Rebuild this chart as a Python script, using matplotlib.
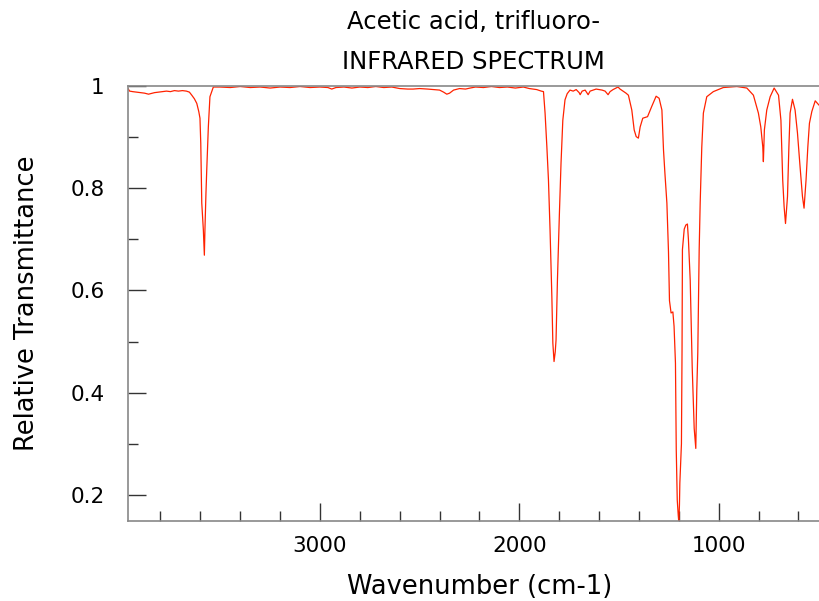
import matplotlib
matplotlib.use("Agg")
import matplotlib.pyplot as plt
from matplotlib.ticker import MultipleLocator, FixedLocator

title_line1 = "Acetic acid, trifluoro-"
title_line2 = "INFRARED SPECTRUM"
x_label = "Wavenumber (cm-1)"
y_label = "Relative Transmittance"

wavenumber = [
    3963, 3955, 3940, 3920, 3900, 3880, 3860, 3850, 3830, 3810, 3790, 3770, 3750, 3730,
    3710, 3690, 3670, 3655, 3643, 3630, 3618, 3608, 3602, 3598, 3593, 3585, 3580, 3577,
    3572, 3568, 3560, 3552, 3535, 3500, 3450, 3400, 3350, 3300, 3250, 3200, 3150, 3100,
    3050, 3000, 2960, 2941, 2920, 2880, 2840, 2800, 2760, 2720, 2680, 2640, 2600, 2560,
    2533, 2500, 2460, 2430, 2400, 2380, 2364, 2350, 2330, 2300, 2270, 2247, 2220, 2180,
    2140, 2100, 2060, 2020, 1980, 1950, 1913, 1890, 1879, 1871, 1862, 1854, 1846, 1837,
    1832, 1826, 1820, 1816, 1809, 1799, 1791, 1782, 1771, 1760, 1746, 1730, 1715, 1700,
    1695, 1685, 1670, 1655, 1645, 1630, 1615, 1600, 1585, 1570, 1555, 1545, 1530, 1515,
    1505, 1495, 1480, 1465, 1453, 1436, 1424, 1414, 1403, 1394, 1381, 1357, 1336, 1314,
    1299, 1285, 1277, 1270, 1260, 1252, 1247, 1239, 1230, 1224, 1217, 1213, 1208, 1203,
    1200, 1197, 1195, 1187, 1184, 1182, 1173, 1165, 1157, 1152, 1143, 1133, 1123, 1115,
    1110, 1105, 1098, 1093, 1085, 1077, 1060, 1027, 977, 909, 859, 826, 801, 789, 779,
    776, 771, 759, 742, 722, 700, 688, 679, 672, 665, 655, 648, 642, 630, 617, 605, 592,
    580, 572, 562, 553, 545, 533, 516, 498,
]

transmittance = [
    0.995, 0.990, 0.989, 0.988, 0.987, 0.986, 0.984, 0.985, 0.987, 0.988, 0.989, 0.990,
    0.989, 0.991, 0.990, 0.991, 0.990, 0.988, 0.982, 0.975, 0.966, 0.950, 0.937, 0.888,
    0.771, 0.718, 0.669, 0.720, 0.790, 0.836, 0.920, 0.979, 0.998, 0.998, 0.997, 0.999,
    0.997, 0.998, 0.996, 0.998, 0.997, 0.999, 0.997, 0.998, 0.997, 0.994, 0.997, 0.998,
    0.996, 0.998, 0.997, 0.999, 0.997, 0.998, 0.995, 0.994, 0.994, 0.995, 0.994, 0.993,
    0.992, 0.988, 0.984, 0.986, 0.992, 0.995, 0.994, 0.996, 0.998, 0.997, 0.999, 0.997,
    0.998, 0.996, 0.998, 0.995, 0.993, 0.990, 0.989, 0.947, 0.881, 0.816, 0.718, 0.588,
    0.497, 0.461, 0.480, 0.503, 0.620, 0.752, 0.849, 0.933, 0.973, 0.985, 0.992, 0.990,
    0.993, 0.987, 0.983, 0.990, 0.992, 0.983, 0.990, 0.992, 0.994, 0.993, 0.992, 0.990,
    0.983, 0.989, 0.993, 0.996, 0.998, 0.994, 0.990, 0.986, 0.982, 0.953, 0.914, 0.901,
    0.898, 0.920, 0.937, 0.940, 0.960, 0.980, 0.976, 0.953, 0.875, 0.830, 0.771, 0.676,
    0.580, 0.556, 0.558, 0.530, 0.458, 0.288, 0.190, 0.160, 0.146, 0.180, 0.223, 0.300,
    0.483, 0.680, 0.720, 0.728, 0.730, 0.700, 0.620, 0.450, 0.330, 0.291, 0.405, 0.478,
    0.680, 0.771, 0.880, 0.947, 0.979, 0.989, 0.997, 0.999, 0.996, 0.982, 0.947, 0.920,
    0.881, 0.852, 0.914, 0.953, 0.979, 0.996, 0.982, 0.933, 0.816, 0.764, 0.731, 0.784,
    0.881, 0.947, 0.974, 0.953, 0.908, 0.842, 0.784, 0.761, 0.816, 0.881, 0.927, 0.950,
    0.971, 0.963,
]

x_major_ticks = [3000, 2000, 1000]
x_tick_labels = ["3000", "2000", "1000"]
y_major_ticks = [0.2, 0.4, 0.6, 0.8, 1.0]
y_tick_labels = ["0.2", "0.4", "0.6", "0.8", "1"]

fig = plt.figure(figsize=(8.19, 6.01), dpi=100)
ax = fig.add_axes([128 / 819, 1 - 521 / 601, 1 - 128 / 819, (521 - 86) / 601])

ax.plot(wavenumber, transmittance, color="#ff2200", linewidth=0.9)

ax.set_xlim(3963, 497)
ax.set_ylim(0.149, 1.0)

ax.xaxis.set_major_locator(FixedLocator(x_major_ticks))
ax.set_xticklabels(x_tick_labels)
ax.xaxis.set_minor_locator(MultipleLocator(200))
ax.yaxis.set_major_locator(FixedLocator(y_major_ticks))
ax.set_yticklabels(y_tick_labels)
ax.yaxis.set_minor_locator(MultipleLocator(0.1))

ax.tick_params(which="both", direction="in", colors="#333333", labelcolor="black", labelsize=15.5)
ax.tick_params(which="major", length=13, width=1)
ax.tick_params(which="minor", length=7, width=1)
ax.tick_params(axis="y", which="major", pad=17)
ax.tick_params(axis="x", which="major", pad=11)

for side in ["left", "bottom", "top"]:
    ax.spines[side].set_color("#888888")
    ax.spines[side].set_linewidth(1.2)
ax.spines["right"].set_visible(False)

ax.set_xlabel(x_label, fontsize=18.5, labelpad=13)
ax.xaxis.label.set_x(0.5087)
ax.set_ylabel(y_label, fontsize=18.5, labelpad=22)

fig.text((128 + 819) / 2 / 819, 1 - 22 / 601, title_line1, ha="center", va="center", fontsize=17.5)
fig.text((128 + 819) / 2 / 819, 1 - 62 / 601, title_line2, ha="center", va="center", fontsize=17.5)

fig.savefig("out.png", dpi=100)
